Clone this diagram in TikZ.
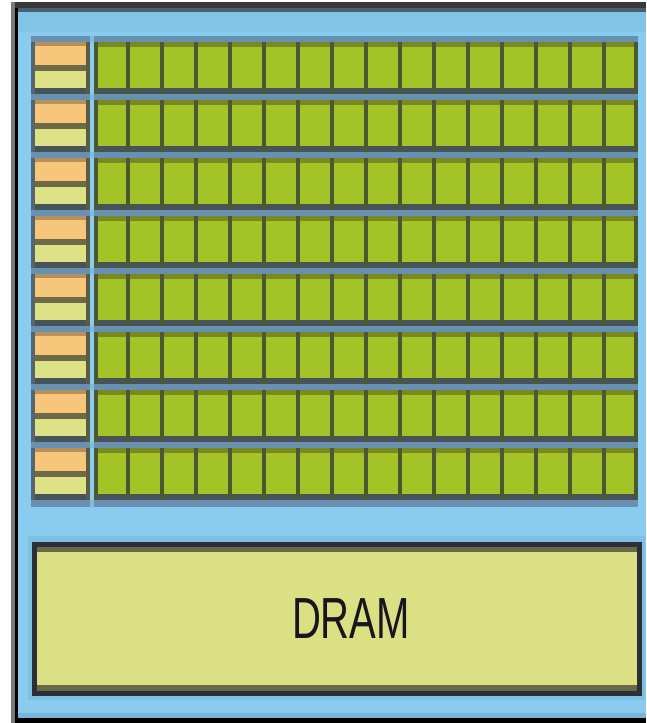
\documentclass[tikz,border=0pt]{standalone}
\usepackage{fontspec}
\setmainfont{Liberation Sans}
\definecolor{bgblue}{HTML}{8ACCF0}
\definecolor{topblue}{HTML}{82C4E6}
\definecolor{band}{HTML}{6890B0}
\definecolor{gapband}{HTML}{80BADC}
\definecolor{cellgreen}{HTML}{A3C326}
\definecolor{olivetop}{HTML}{7A8A22}
\definecolor{darkbot}{HTML}{46545A}
\definecolor{vline}{HTML}{4C5832}
\definecolor{orangec}{HTML}{F6C77A}
\definecolor{orangetop}{HTML}{B8905C}
\definecolor{yellowc}{HTML}{DEE286}
\definecolor{sepc}{HTML}{6E6A45}
\definecolor{leftedge}{HTML}{56666C}
\definecolor{rightedge}{HTML}{5E5C40}
\definecolor{dramfill}{HTML}{DCE085}
\definecolor{dramedge}{HTML}{2A3035}
\definecolor{dramolive}{HTML}{6A6A48}
\definecolor{dramband}{HTML}{80BEE2}
\definecolor{frametop}{HTML}{383838}
\definecolor{framegb}{HTML}{4A6070}
\definecolor{framegrey}{HTML}{7A7A7A}
\definecolor{botblue}{HTML}{78B6D8}
\definecolor{textc}{HTML}{16161C}
\tikzset{dramtext/.style={font=\fontsize{58}{60}\selectfont, text=textc, xscale=0.69, inner sep=0pt}}
\begin{document}
\begin{tikzpicture}[x=1pt,y=-1pt]
\useasboundingbox (0,0) rectangle (646,723);
\fill[white] (0,0) rectangle (646,723);
% frame
\fill[bgblue] (15,2) rectangle (646,723);
\fill[topblue] (18,12) rectangle (646,32);
\fill[frametop] (11,2) rectangle (646,8);
\fill[framegb] (18,8) rectangle (646,12);
\fill[framegrey] (11,2) rectangle (15,723);
\fill[black] (15,8) rectangle (18,723);
\fill[botblue] (18,713) rectangle (646,718);
\fill[black] (15,718) rectangle (646,723);
% grid bands
\fill[band] (31,36) rectangle (90,507);
\fill[band] (94,36) rectangle (638,507);
\fill[gapband] (90,36) rectangle (94,507);
\foreach \i in {0,...,7} {
  \pgfmathsetmacro\y{42+58*\i}
  \fill[bgblue] (90,\y) rectangle (94,\y+52);
  % left block
  \fill[orangec] (31,\y) rectangle (90,\y+23);
  \fill[orangetop] (35,\y) rectangle (86,\y+4);
  \fill[sepc] (31,\y+23) rectangle (90,\y+29);
  \fill[yellowc] (31,\y+29) rectangle (90,\y+46);
  \fill[darkbot] (31,\y+46) rectangle (90,\y+52);
  \fill[leftedge] (31,\y) rectangle (35,\y+52);
  \fill[rightedge] (86,\y) rectangle (90,\y+52);
  % green block
  \fill[cellgreen] (94,\y) rectangle (638,\y+52);
  \fill[olivetop] (94,\y) rectangle (638,\y+5);
  \fill[darkbot] (94,\y+46) rectangle (638,\y+52);
  \fill[vline] (94,\y) rectangle (98,\y+52);
  \fill[vline] (634,\y) rectangle (638,\y+52);
  \foreach \k in {1,...,15} {
    \fill[vline] (92+34*\k,\y) rectangle (96+34*\k,\y+52);
  }
}
% DRAM
\fill[dramband] (28,536) rectangle (645,700);
\filldraw[fill=dramfill, draw=dramedge, line width=5pt] (34,544) rectangle (639,693);
\fill[dramolive] (36.5,546.5) rectangle (636.5,552);
\fill[dramolive] (36.5,685) rectangle (636.5,690.5);
\node[dramtext] (dram) at (351,619) {DRAM};
\end{tikzpicture}
\end{document}
